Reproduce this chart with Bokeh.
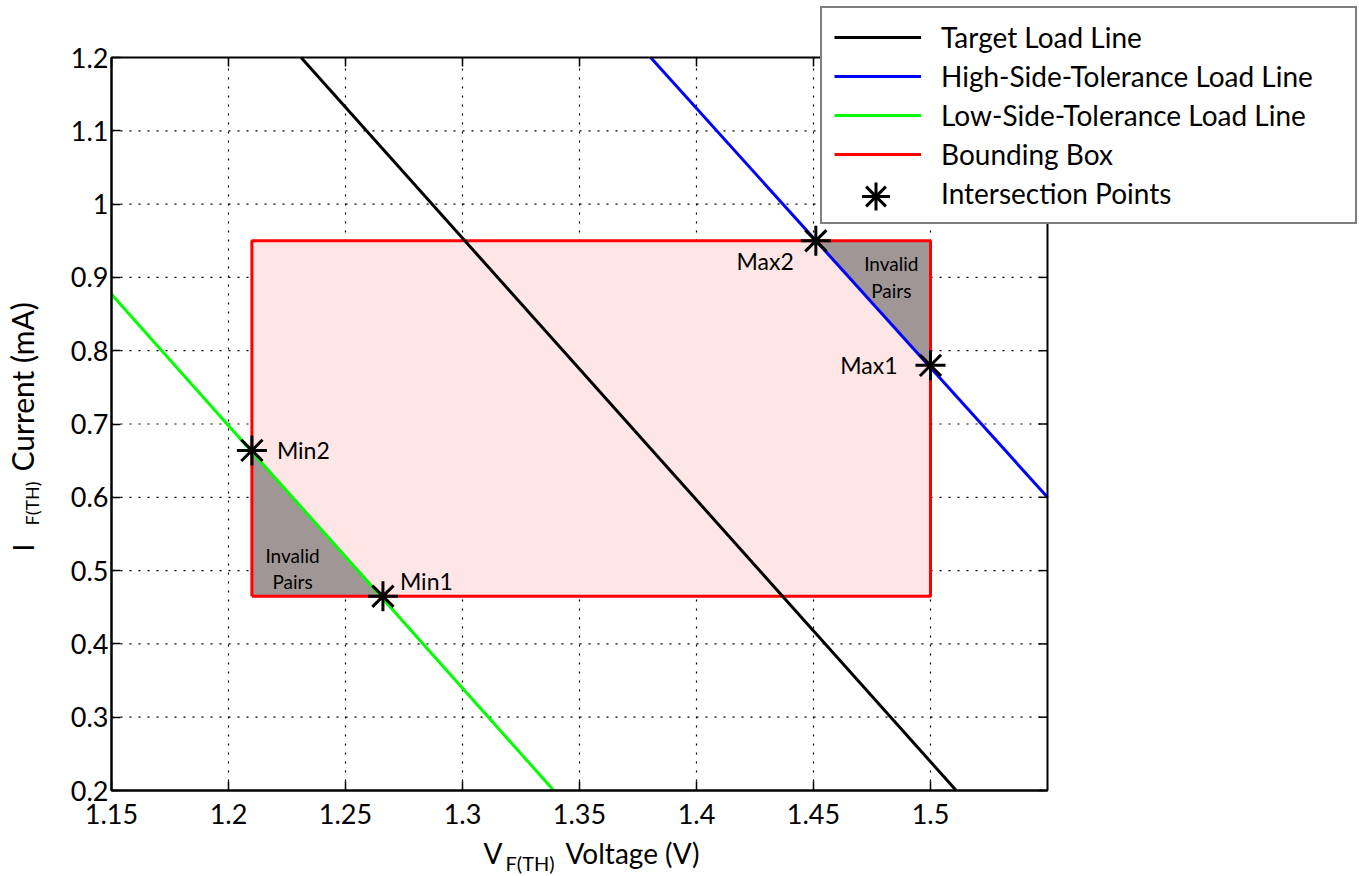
import numpy as np
from bokeh.plotting import figure
from bokeh.models import (Range1d, FixedTicker, Legend, LegendItem,
                          Label, ColumnDataSource)
from bokeh.embed import file_html
from bokeh.resources import INLINE
from bokeh.core.properties import value

# ---------------- data ----------------
x_ticks = [1.15, 1.2, 1.25, 1.3, 1.35, 1.4, 1.45, 1.5]
x_tick_labels = ["1.15", "1.2", "1.25", "1.3", "1.35", "1.4", "1.45", "1.5"]
y_ticks = [0.2, 0.3, 0.4, 0.5, 0.6, 0.7, 0.8, 0.9, 1.0, 1.1, 1.2]
y_tick_labels = ["0.2", "0.3", "0.4", "0.5", "0.6", "0.7", "0.8", "0.9", "1", "1.1", "1.2"]
x_lim = [1.15, 1.55]
y_lim = [0.2, 1.2]

target_v = [1.231, 1.511]
target_i = [1.2, 0.2]
high_v = [1.3804, 1.55]
high_i = [1.2, 0.6]
low_v = [1.15, 1.339]
low_i = [0.877, 0.2]

box_v = [1.21, 1.5]       # left, right
box_i = [0.465, 0.95]     # bottom, top

pt_names = ["Min2", "Min1", "Max2", "Max1"]
pt_v = [1.21, 1.266, 1.451, 1.5]
pt_i = [0.664, 0.465, 0.95, 0.78]

# ---------------- layout (pixels) ----------------
W, H = 1358, 875
AX_L, AX_R, AX_T, AX_B = 111, 1047, 57, 790      # axes box in canvas pixels
px_per_x = (AX_R - AX_L) / (x_lim[1] - x_lim[0])
px_per_y = (AX_B - AX_T) / (y_lim[1] - y_lim[0])
x_start = x_lim[0] - AX_L / px_per_x
x_end = x_lim[1] + (W - AX_R) / px_per_x
y_start = y_lim[0] - (H - AX_B) / px_per_y
y_end = y_lim[1] + AX_T / px_per_y

p = figure(width=W, height=H, x_range=Range1d(x_start, x_end), y_range=Range1d(y_start, y_end),
           output_backend="svg", toolbar_location=None, title=None, min_border=0)
p.background_fill_color = "white"
p.border_fill_color = "white"
p.outline_line_color = None
p.grid.visible = False

FONT = "Lato"

def style_axis(ax, ticks, labels, bounds, loc):
    ax.fixed_location = loc
    ax.ticker = FixedTicker(ticks=ticks)
    ax.major_label_overrides = {t: l for t, l in zip(ticks, labels)}
    ax.bounds = tuple(bounds)
    ax.major_tick_in = 9
    ax.major_tick_out = 0
    ax.minor_tick_line_color = None
    ax.axis_line_color = "black"
    ax.axis_line_width = 2
    ax.major_tick_line_color = "black"
    ax.major_tick_line_width = 1.5
    ax.major_label_text_font = FONT
    ax.major_label_text_font_size = "27px"
    ax.major_label_text_color = "black"

style_axis(p.xaxis[0], x_ticks, x_tick_labels, x_lim, y_lim[0])
style_axis(p.yaxis[0], y_ticks, y_tick_labels, y_lim, x_lim[0])
p.xaxis[0].major_label_standoff = 13
p.yaxis[0].major_label_standoff = 3

# dotted grid
p.segment(x0=x_ticks[1:], x1=x_ticks[1:], y0=[y_lim[0]] * (len(x_ticks) - 1),
          y1=[y_lim[1]] * (len(x_ticks) - 1), line_color="black", line_dash="2 7", line_width=1.2)
p.segment(x0=[x_lim[0]] * (len(y_ticks) - 2), x1=[x_lim[1]] * (len(y_ticks) - 2),
          y0=y_ticks[1:-1], y1=y_ticks[1:-1], line_color="black", line_dash="2 7", line_width=1.2)

# bounding box fill
p.quad(left=[box_v[0]], right=[box_v[1]], bottom=[box_i[0]], top=[box_i[1]],
       fill_color="#ffe6e6", line_color=None)

# invalid-pair triangles
tri_xs = [[pt_v[0], box_v[0], pt_v[1]], [pt_v[2], box_v[1], pt_v[3]]]
tri_ys = [[pt_i[0], box_i[0], pt_i[1]], [pt_i[2], box_i[1], pt_i[3]]]
p.patches(xs=tri_xs, ys=tri_ys, fill_color="#a09696", line_color=None)

# bounding box outline
r_box = p.line([box_v[0], box_v[1], box_v[1], box_v[0], box_v[0]],
               [box_i[0], box_i[0], box_i[1], box_i[1], box_i[0]],
               line_color="#ff0000", line_width=3)

r_target = p.line(target_v, target_i, line_color="black", line_width=3)
r_high = p.line(high_v, high_i, line_color="#0000ff", line_width=3)
r_low = p.line(low_v, low_i, line_color="#00ff00", line_width=3)

# axes box (top/right edges) with inward ticks
p.quad(left=[x_lim[0]], right=[x_lim[1]], bottom=[y_lim[0]], top=[y_lim[1]],
       fill_color=None, line_color="black", line_width=2)
p.ray(x=x_ticks, y=[y_lim[1]] * len(x_ticks), length=9, length_units="screen",
      angle=-np.pi / 2, line_color="black", line_width=1.5)
p.ray(x=[x_lim[1]] * len(y_ticks), y=y_ticks, length=9, length_units="screen",
      angle=np.pi, line_color="black", line_width=1.5)

r_pts = p.scatter(pt_v, pt_i, marker="asterisk", size=30, line_color="black", line_width=3)
# invisible stand-in so the main legend row has no small marker sample
r_pts_blank = p.scatter(x=[], y=[], marker="asterisk", size=30, line_alpha=0, fill_alpha=0)

# point labels
lab_src = ColumnDataSource(dict(
    x=pt_v, y=pt_i, text=pt_names,
    dx=[25, 17, -22, -33], dy=[0, -15, 20, 0],
    align=["left", "left", "right", "right"]))
p.text(x="x", y="y", text="text", x_offset="dx", y_offset="dy", text_align="align",
       text_baseline="middle", text_font=value(FONT), text_font_size="23px",
       text_color="black", source=lab_src)

# "Invalid Pairs" labels at triangle centroids
cx = [float(np.mean(xs)) for xs in tri_xs]
cy = [float(np.mean(ys)) for ys in tri_ys]
inv_src = ColumnDataSource(dict(
    x=[cx[0], cx[0], cx[1], cx[1]], y=[cy[0], cy[0], cy[1], cy[1]],
    text=["Invalid", "Pairs", "Invalid", "Pairs"],
    dx=[-3, -3, -1, -1], dy=[8, 34, -19, 8]))
p.text(x="x", y="y", text="text", x_offset="dx", y_offset="dy", text_align="center",
       text_baseline="middle", text_font=value(FONT), text_font_size="19px",
       text_color="black", source=inv_src)

# legend
LEG_L, LEG_B = 820, 224
GLYPH_W = 87
legend = Legend(items=[
    LegendItem(label="Target Load Line", renderers=[r_target]),
    LegendItem(label="High-Side-Tolerance Load Line", renderers=[r_high]),
    LegendItem(label="Low-Side-Tolerance Load Line", renderers=[r_low]),
    LegendItem(label="Bounding Box", renderers=[r_box]),
    LegendItem(label="Intersection Points", renderers=[r_pts_blank]),
], location=(LEG_L, H - LEG_B))
legend.border_line_color = "black"
legend.border_line_width = 2
legend.background_fill_color = "white"
legend.background_fill_alpha = 1
legend.label_text_font = FONT
legend.label_text_font_size = "28px"
legend.label_text_color = "black"
legend.glyph_width = GLYPH_W
legend.glyph_height = 30
legend.label_height = 30
legend.spacing = 5
legend.padding = 12
legend.margin = 0
legend.label_standoff = 20
legend.label_width = 402
p.add_layout(legend)

# second, transparent legend carrying a full-size asterisk sample on the last row
STAR_H = 70
STAR_CY = 196
legend2 = Legend(items=[LegendItem(label=" ", renderers=[r_pts])],
                 location=(LEG_L + 12, H - STAR_CY - STAR_H / 2))
legend2.border_line_alpha = 0
legend2.background_fill_alpha = 0
legend2.glyph_width = GLYPH_W
legend2.glyph_height = STAR_H
legend2.label_height = STAR_H
legend2.label_text_font_size = "2px"
legend2.label_width = 1
legend2.padding = 0
legend2.margin = 0
legend2.spacing = 0
p.add_layout(legend2)

# axis titles (screen units, canvas-relative, y measured from bottom)
def lab(x, y_top, text, size, angle=0.0):
    p.add_layout(Label(x=x, y=H - y_top, x_units="screen", y_units="screen", text=text,
                       text_font=FONT, text_font_size=size, text_color="black",
                       text_align="left", text_baseline="alphabetic", angle=angle))

lab(483, 852, "V", "28px")
lab(505, 862, "F(TH)", "20px")
lab(565, 852, "Voltage (V)", "28px")

lab(22, 551, "I", "28px", np.pi / 2)
lab(31, 525, "F(TH)", "18px", np.pi / 2)
lab(21, 471, "Current (mA)", "30px", np.pi / 2)

open("out.html", "w").write(file_html(p, INLINE))
